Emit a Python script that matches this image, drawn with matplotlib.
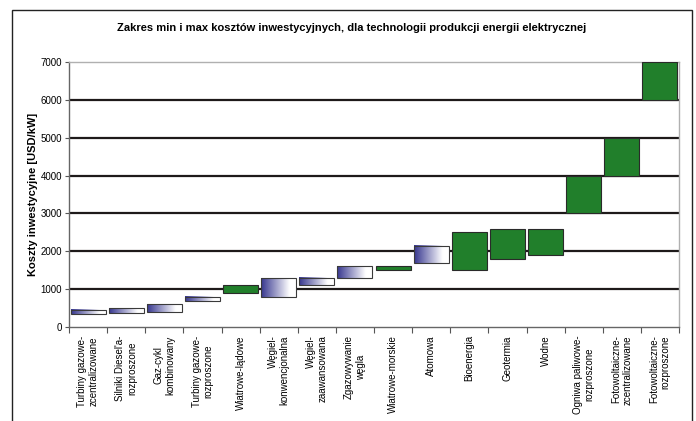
import matplotlib
matplotlib.use("Agg")
import matplotlib.pyplot as plt
import numpy as np
from matplotlib.colors import LinearSegmentedColormap
from matplotlib.patches import Rectangle

plt.rcParams['font.family'] = ['Liberation Sans', 'DejaVu Sans']

categories = [
    "Turbiny gazowe-\nzcentralizowane",
    "Silniki Diesel'a-\nrozproszone",
    "Gaz-cykl\nkombinowany",
    "Turbiny gazowe-\nrozproszone",
    "Wiatrowe-lądowe",
    "Węgiel-\nkonwencjonalna",
    "Węgiel-\nzaawansowana",
    "Zgazowywanie\nwęgla",
    "Wiatrowe-morskie",
    "Atomowa",
    "Bioenergia",
    "Geotermia",
    "Wodne",
    "Ogniwa paliwowe-\nrozproszone",
    "Fotowoltaiczne-\nzcentralizowane",
    "Fotowoltaiczne-\nrozproszone",
]
min_cost = [340, 380, 400, 680, 900, 800, 1100, 1300, 1500, 1700, 1500, 1800, 1900, 3000, 4000, 6000]
max_cost = [450, 500, 600, 800, 1100, 1300, 1300, 1600, 1600, 2150, 2500, 2600, 2600, 4000, 5000, 7000]
# style group: 'g' = green, 'b' = blue gradient
style = ['b', 'b', 'b', 'b', 'g', 'b', 'b', 'b', 'g', 'b', 'g', 'g', 'g', 'g', 'g', 'g']
yticks = [0, 1000, 2000, 3000, 4000, 5000, 6000, 7000]

title = "Zakres min i max kosztów inwestycyjnych, dla technologii produkcji energii elektrycznej"
ylabel = "Koszty inwestycyjne [USD/kW]"

fig = plt.figure(figsize=(6.96, 4.21), dpi=100)
ax = fig.add_axes([69/696, 1-327/421, (679-69)/696, (327-62)/421])

n = len(categories)
x = np.arange(n)
w = 0.92
green = '#217f2b'
cmap = LinearSegmentedColormap.from_list('g', [(0, '#35358e'), (0.8, '#ffffff'), (1, '#ffffff')])
grad = np.linspace(0, 1, 256).reshape(1, -1)

# gridlines
for yv in yticks[1:-1]:
    ax.axhline(yv, color='#1e1a1a', lw=1.6, zorder=1)

for i in range(n):
    lo, hi = min_cost[i], max_cost[i]
    if style[i] == 'g':
        ax.bar(x[i], hi - lo, bottom=lo, width=w, color=green, edgecolor='#2a2a2a', lw=0.8, zorder=3)
    else:
        ax.imshow(grad, extent=(x[i]-w/2, x[i]+w/2, lo, hi), aspect='auto', cmap=cmap,
                  interpolation='bilinear', zorder=3)
        ax.add_patch(Rectangle((x[i]-w/2, lo), w, hi - lo, fill=False, edgecolor='#3a3a3a', lw=0.8, zorder=4))

ax.set_xlim(-0.5, n - 0.5)
ax.set_ylim(0, 7000)
ax.set_aspect('auto')

ax.set_yticks(yticks)
ax.set_yticklabels([str(v) for v in yticks], fontsize=7)
ax.tick_params(axis='y', length=3, width=0.8, color='#555555', pad=2)

ax.set_xticks(x)
ax.set_xticklabels(categories, rotation=90, fontsize=7, ha='center', va='top', multialignment='center')
ax.tick_params(axis='x', which='major', length=0, pad=6)
ax.set_xticks(np.arange(n + 1) - 0.5, minor=True)
ax.tick_params(axis='x', which='minor', length=4, width=0.8, color='#555555')

for lab in ax.get_xticklabels():
    if lab.get_text().startswith('Węgiel') or lab.get_text().startswith('Fotowolt'):
        lab.set_multialignment('right')

for s in ['left', 'bottom']:
    ax.spines[s].set_color('#666666')
    ax.spines[s].set_linewidth(1.0)
for s in ['top', 'right']:
    ax.spines[s].set_color('#b0b0b0')
    ax.spines[s].set_linewidth(1.0)

ax.set_ylabel(ylabel, fontsize=8, fontweight='bold', labelpad=2)
fig.text(352/696, 1-28/421, title, fontsize=8, fontweight='bold', ha='center', va='center')

# outer frame
fig.patches.append(Rectangle((12/696, -0.05), (692-12)/696, 1.05 - 10/421, transform=fig.transFigure,
                             fill=False, edgecolor='#222222', lw=1.0, clip_on=False))

fig.savefig('out.png', dpi=100)
